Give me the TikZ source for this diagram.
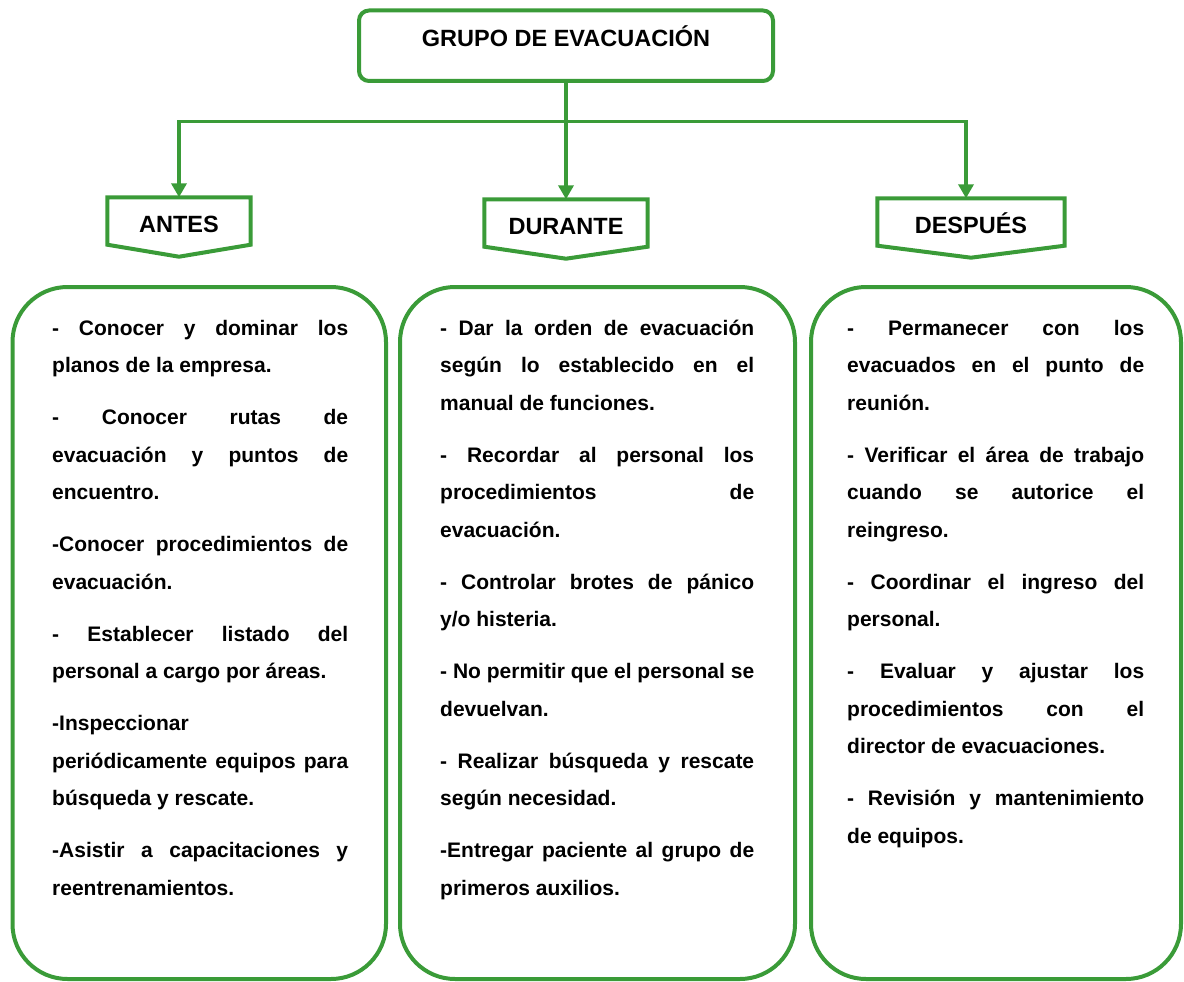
\documentclass[tikz,border=0pt]{standalone}
\usepackage{fontspec}
\setmainfont{Liberation Sans}
\usetikzlibrary{arrows.meta}
\definecolor{evgreen}{RGB}{58,155,56}
%% justified line, last line of a paragraph, gap between items
\newcommand{\jl}[1]{\hbox to\hsize{\spaceskip=0.278em plus 1fill\relax #1}}
\newcommand{\el}[1]{\hbox{#1}}
\newcommand{\pgap}{\vskip14.5pt}

\begin{document}
\begin{tikzpicture}[x=1pt,y=-1pt,font=\bfseries,
        topbox/.style={draw=evgreen,line width=4pt,rounded corners=10pt,minimum width=414pt,minimum height=70.5pt,inner sep=0pt,font=\fontsize{23.5}{28}\selectfont\bfseries,text height=17pt,text depth=14.7pt},
        headbox/.style={minimum height=47pt,inner sep=0pt,font=\fontsize{23.5}{28}\selectfont\bfseries,text height=22pt,text depth=0pt},
        headline/.style={draw=evgreen,line width=4pt,line join=miter},
        colbox/.style={draw=evgreen,line width=4pt,rounded corners=55pt,minimum height=692pt,inner sep=0pt},
        coltext/.style={anchor=base west,inner sep=0pt,font=\fontsize{21}{37.5}\selectfont\bfseries},
        link/.style={draw=evgreen,line width=3.5pt,-{Triangle[width=15pt,length=14pt]}}]
        \useasboundingbox (0,0) rectangle (1184,982);
        %% title
        \node[topbox] (grupo) at (566,45.75) {GRUPO DE EVACUACIÓN};
        %% phases
        \node[headbox,minimum width=143pt] (antes) at (179,221) {ANTES};
        \node[headbox,minimum width=163pt] (durante) at (566,223) {DURANTE};
        \node[headbox,minimum width=187pt] (despues) at (971,222) {DESPUÉS};
        \draw[headline] (antes.north west) -- (antes.north east) -- (antes.south east) -- ([yshift=-12pt]antes.south) -- (antes.south west) -- cycle;
        \draw[headline] (durante.north west) -- (durante.north east) -- (durante.south east) -- ([yshift=-12pt]durante.south) -- (durante.south west) -- cycle;
        \draw[headline] (despues.north west) -- (despues.north east) -- (despues.south east) -- ([yshift=-12pt]despues.south) -- (despues.south west) -- cycle;
        %% connectors
        \coordinate (fork) at (566,121.7);
        \draw[link] (grupo.south) -- (durante.north);
        \draw[link] (fork) -| (antes.north);
        \draw[link] (fork) -| ([xshift=-5pt]despues.north);
        %% columns
        \node[colbox,minimum width=373.5pt] (antesbox) at (199.25,633) {};
        \node[colbox,minimum width=395pt] (durantebox) at (597.5,633) {};
        \node[colbox,minimum width=370pt] (despuesbox) at (996,633) {};
        %% antes
        \node[coltext] (antestxt) at (52,335) {\vtop{\hsize=296pt \baselineskip=37.5pt
            \jl{- Conocer y dominar los} \el{planos de la empresa.} \pgap
            \jl{- Conocer rutas de} \jl{evacuación y puntos de} \el{encuentro.} \pgap
            \jl{-Conocer procedimientos de} \el{evacuación.} \pgap
            \jl{- Establecer listado del} \el{personal a cargo por áreas.} \pgap
            \el{-Inspeccionar} \jl{periódicamente equipos para} \el{búsqueda y rescate.} \pgap
            \jl{-Asistir a capacitaciones y} \el{reentrenamientos.}}};
        %% durante
        \node[coltext] (durantetxt) at (440,335) {\vtop{\hsize=314pt \baselineskip=37.5pt
            \jl{- Dar la orden de evacuación} \jl{según lo establecido en el} \el{manual de funciones.} \pgap
            \jl{- Recordar al personal los} \jl{procedimientos de} \el{evacuación.} \pgap
            \jl{- Controlar brotes de pánico} \el{y/o histeria.} \pgap
            \jl{- No permitir que el personal se} \el{devuelvan.} \pgap
            \jl{- Realizar búsqueda y rescate} \el{según necesidad.} \pgap
            \jl{-Entregar paciente al grupo de} \el{primeros auxilios.}}};
        %% despues
        \node[coltext] (despuestxt) at (847,335) {\vtop{\hsize=297pt \baselineskip=37.5pt
            \jl{- Permanecer con los} \jl{evacuados en el punto de} \el{reunión.} \pgap
            \jl{- Verificar el área de trabajo} \jl{cuando se autorice el} \el{reingreso.} \pgap
            \jl{- Coordinar el ingreso del} \el{personal.} \pgap
            \jl{- Evaluar y ajustar los} \jl{procedimientos con el} \el{director de evacuaciones.} \pgap
            \jl{- Revisión y mantenimiento} \el{de equipos.}}};
    \end{tikzpicture}
\end{document}
